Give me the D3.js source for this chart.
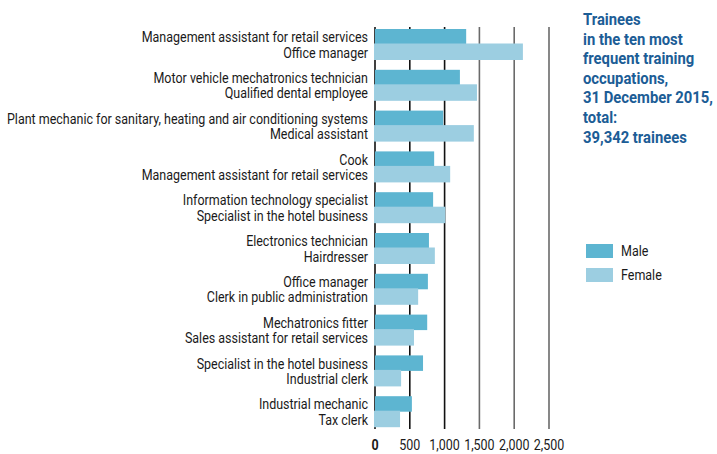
<!DOCTYPE html>
<html>
<head>
<meta charset="utf-8">
<script src="https://cdn.jsdelivr.net/npm/d3@7"></script>
<style>
  body { margin: 0; background: #fff; }
  text { font-family: Roboto, "DejaVu Sans", sans-serif; }
</style>
</head>
<body>
<svg id="chart" width="717" height="454"></svg>
<script>
// male / female occupation pairs, top to bottom
const maleJobs = ["Management assistant for retail services", "Motor vehicle mechatronics technician",
  "Plant mechanic for sanitary, heating and air conditioning systems", "Cook",
  "Information technology specialist", "Electronics technician", "Office manager",
  "Mechatronics fitter", "Specialist in the hotel business", "Industrial mechanic"];
const maleValues = [1310, 1220, 980, 850, 835, 775, 760, 750, 690, 530];

const femaleJobs = ["Office manager", "Qualified dental employee", "Medical assistant",
  "Management assistant for retail services", "Specialist in the hotel business", "Hairdresser",
  "Clerk in public administration", "Sales assistant for retail services", "Industrial clerk", "Tax clerk"];
const femaleValues = [2125, 1465, 1420, 1080, 1010, 860, 620, 560, 375, 360];

const ticks = [0, 500, 1000, 1500, 2000, 2500];
const titleLines = ["Trainees", "in the ten most", "frequent training", "occupations,",
  "31 December 2015,", "total:", "39,342 trainees"];

const maleColor = "#5db5d1";
const femaleColor = "#9ccee1";

const svg = d3.select("#chart");

// squeeze text horizontally, no condensed font available
function condense(sel, factor) {
  sel.each(function() {
    const w = this.getComputedTextLength();
    d3.select(this).attr("textLength", w * factor).attr("lengthAdjust", "spacingAndGlyphs");
  });
}

const x = d3.scaleLinear().domain([0, 2500]).range([375, 549]);
const y = d3.scaleBand().domain(d3.range(maleJobs.length)).range([24, 432]);
const sub = d3.scaleBand().domain(["male", "female"]).range([5, 36]);

// gridlines
svg.append("g")
  .selectAll("line")
  .data(ticks)
  .join("line")
    .attr("x1", d => x(d)).attr("x2", d => x(d))
    .attr("y1", 27).attr("y2", 429)
    .attr("stroke", (d, i) => i < 3 ? "#111" : "#6a6a6a")
    .attr("stroke-width", 1.6);

const groups = svg.append("g")
  .selectAll("g")
  .data(d3.range(maleJobs.length))
  .join("g")
    .attr("transform", i => `translate(0,${y(i)})`);

groups.append("rect")
  .attr("x", x(0))
  .attr("y", sub("male"))
  .attr("width", i => x(maleValues[i]) - x(0))
  .attr("height", sub.bandwidth())
  .attr("fill", maleColor);

groups.append("rect")
  .attr("x", x(0) - 1)
  .attr("y", sub("female") - 1)
  .attr("width", i => x(femaleValues[i]) - x(0) + 1)
  .attr("height", sub.bandwidth() + 1)
  .attr("fill", femaleColor);

const maleLabels = groups.append("text")
  .attr("x", 368)
  .attr("y", sub("male") + sub.bandwidth() / 2)
  .attr("dy", "0.36em")
  .attr("text-anchor", "end")
  .attr("font-size", 15)
  .attr("fill", "#1a1a1a")
  .text(i => maleJobs[i]);

const femaleLabels = groups.append("text")
  .attr("x", 368)
  .attr("y", sub("female") + sub.bandwidth() / 2)
  .attr("dy", "0.36em")
  .attr("text-anchor", "end")
  .attr("font-size", 15)
  .attr("fill", "#1a1a1a")
  .text(i => femaleJobs[i]);

// fit the longest label to the reference width
const longest = maleLabels.filter(i => i === 2).node().getComputedTextLength();
const labelFactor = 361 / longest;
condense(maleLabels, labelFactor);
condense(femaleLabels, labelFactor);

// x axis labels
const tickLabels = svg.append("g")
  .selectAll("text")
  .data(ticks)
  .join("text")
    .attr("x", d => x(d))
    .attr("y", 450)
    .attr("text-anchor", "middle")
    .attr("font-size", 15)
    .attr("font-weight", d => d === 0 ? "bold" : "normal")
    .attr("fill", "#1a1a1a")
    .text(d => d3.format(",")(d));
condense(tickLabels, labelFactor);

// title
const title = svg.append("g")
  .selectAll("text")
  .data(titleLines)
  .join("text")
    .attr("x", 583)
    .attr("y", (d, i) => 25 + i * 19.6)
    .attr("font-size", 17)
    .attr("font-weight", "bold")
    .attr("fill", "#1c5d96")
    .text(d => d);
const titleRef = title.filter((d, i) => i === 4).node().getComputedTextLength();
condense(title, 130 / titleRef);

// legend
const legend = svg.append("g")
  .selectAll("g")
  .data([["Male", maleColor], ["Female", femaleColor]])
  .join("g")
    .attr("transform", (d, i) => `translate(586,${244 + i * 24})`);

legend.append("rect")
  .attr("width", 27).attr("height", 14)
  .attr("fill", d => d[1]);

const legendText = legend.append("text")
  .attr("x", 35).attr("y", 7).attr("dy", "0.36em")
  .attr("font-size", 15)
  .attr("fill", "#1a1a1a")
  .text(d => d[0]);
condense(legendText, labelFactor);
</script>
</body>
</html>
